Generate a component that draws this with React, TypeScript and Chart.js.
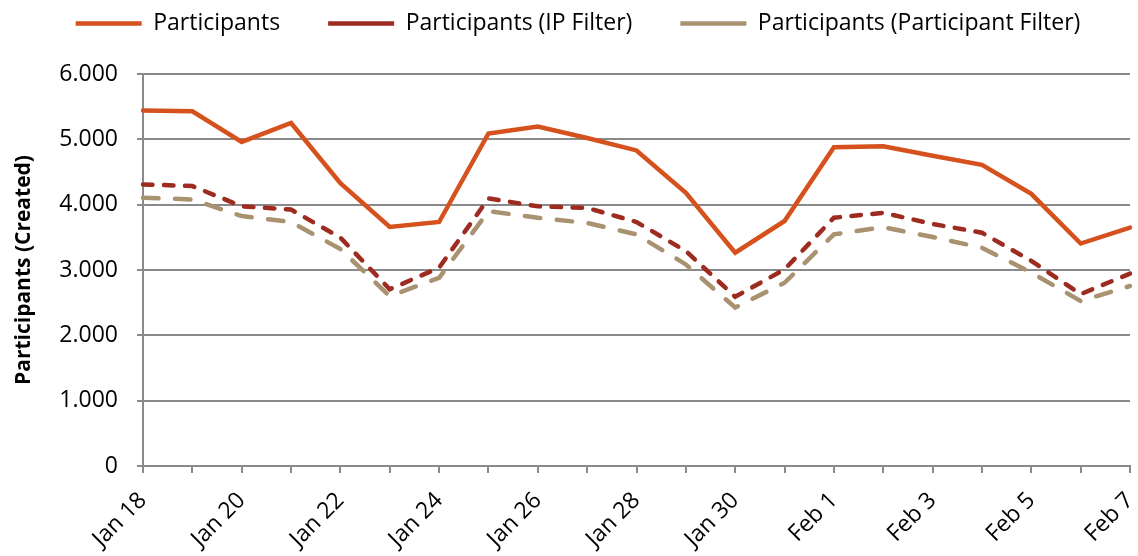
import React, { useEffect, useRef } from "react";
import { Chart, registerables } from "chart.js";

Chart.register(...registerables);

const dayLabels = [
  "Jan 18", "Jan 19", "Jan 20", "Jan 21", "Jan 22", "Jan 23", "Jan 24",
  "Jan 25", "Jan 26", "Jan 27", "Jan 28", "Jan 29", "Jan 30", "Jan 31",
  "Feb 1", "Feb 2", "Feb 3", "Feb 4", "Feb 5", "Feb 6", "Feb 7",
];

const participants = [
  5440, 5430, 4960, 5250, 4330, 3660, 3735, 5090, 5195, 5020, 4830,
  4180, 3265, 3750, 4880, 4895, 4750, 4610, 4165, 3405, 3650,
];

const participantsIpFilter = [
  4310, 4285, 3975, 3925, 3495, 2705, 3035, 4095, 3975, 3950, 3735,
  3290, 2590, 3010, 3800, 3875, 3705, 3570, 3140, 2630, 2945,
];

const participantsParticipantFilter = [
  4105, 4080, 3825, 3735, 3320, 2600, 2880, 3900, 3800, 3720, 3545,
  3085, 2425, 2805, 3545, 3655, 3505, 3340, 2960, 2525, 2755,
];

const seriesNames = [
  "Participants",
  "Participants (IP Filter)",
  "Participants (Participant Filter)",
];

const yTickMin = 0;
const yTickMax = 6000;
const yTickStep = 1000;
const yTitle = "Participants (Created)";

const FONT = "'Open Sans', 'Noto Sans', sans-serif";
const GRID = "#8a8a8a";

function formatThousands(v: number): string {
  return Math.round(v)
    .toString()
    .replace(/\B(?=(\d{3})+(?!\d))/g, ".");
}

export default function App() {
  const canvasRef = useRef<HTMLCanvasElement | null>(null);

  useEffect(() => {
    if (!canvasRef.current) return;
    const chart = new Chart(canvasRef.current, {
      type: "line",
      data: {
        labels: dayLabels,
        datasets: [
          {
            label: seriesNames[0],
            data: participants,
            borderColor: "#D5511D",
            backgroundColor: "#D5511D",
            borderWidth: 4.5,
            borderCapStyle: "round",
            borderJoinStyle: "miter",
            pointRadius: 0,
            tension: 0,
          },
          {
            label: seriesNames[1],
            data: participantsIpFilter,
            borderColor: "#9E2B20",
            backgroundColor: "#9E2B20",
            borderWidth: 4.5,
            borderDash: [9.5, 11.5],
            borderCapStyle: "round",
            pointRadius: 0,
            tension: 0,
          },
          {
            label: seriesNames[2],
            data: participantsParticipantFilter,
            borderColor: "#A89270",
            backgroundColor: "#A89270",
            borderWidth: 4.5,
            borderDash: [15.5, 16.5],
            borderCapStyle: "round",
            pointRadius: 0,
            tension: 0,
          },
        ],
      },
      options: {
        animation: false,
        responsive: true,
        maintainAspectRatio: false,
        layout: { padding: { top: -36, left: 18, right: 0, bottom: 0 } },
        plugins: {
          tooltip: { enabled: false },
          legend: {
            display: true,
            position: "top",
            align: "center",
            weight: 3000,
            labels: {
              usePointStyle: true,
              pointStyle: "line",
              pointStyleWidth: 66,
              boxWidth: 66,
              padding: 48,
              color: "#000",
              font: { family: FONT, size: 23 },
            },
          },
          title: {
            display: true,
            text: "",
            position: "top",
            weight: 500,
            font: { family: FONT, size: 10, lineHeight: 1 },
            padding: { top: 19, bottom: 0 },
          },
        },
        scales: {
          x: {
            type: "category",
            offset: false,
            afterFit: (scale: any) => {
              scale.height = 90;
              scale.paddingLeft = 0;
              scale.paddingRight = 8;
            },
            grid: {
              display: true,
              drawOnChartArea: false,
              drawTicks: true,
              tickLength: 7,
              color: GRID,
              lineWidth: 2,
            },
            border: { display: true, color: GRID, width: 2 },
            ticks: {
              autoSkip: false,
              maxRotation: 45,
              minRotation: 45,
              padding: 14,
              color: "#000",
              font: { family: FONT, size: 23 },
              callback: (_v: any, i: number) => (i % 2 === 0 ? dayLabels[i] : ""),
            },
          },
          y: {
            min: yTickMin,
            max: yTickMax,
            afterFit: (scale: any) => {
              scale.width = 125;
              scale.paddingTop = 72;
              scale.paddingBottom = 0;
            },
            grid: {
              display: true,
              drawTicks: true,
              tickLength: 6,
              color: GRID,
              lineWidth: 2,
            },
            border: { display: true, color: GRID, width: 2 },
            ticks: {
              stepSize: yTickStep,
              padding: 19,
              color: "#000",
              font: { family: FONT, size: 23 },
              callback: (v: any) => formatThousands(Number(v)),
            },
            title: {
              display: true,
              text: yTitle,
              color: "#000",
              font: { family: FONT, size: 21, weight: "bold" },
              padding: { top: -7, bottom: 0 },
            },
          },
        },
      },
    });
    return () => chart.destroy();
  }, []);

  return (
    <div
      style={{
        position: "absolute",
        left: 0,
        top: 0,
        width: 1138,
        height: 556,
        background: "#fff",
      }}
    >
      <canvas ref={canvasRef} />
    </div>
  );
}
